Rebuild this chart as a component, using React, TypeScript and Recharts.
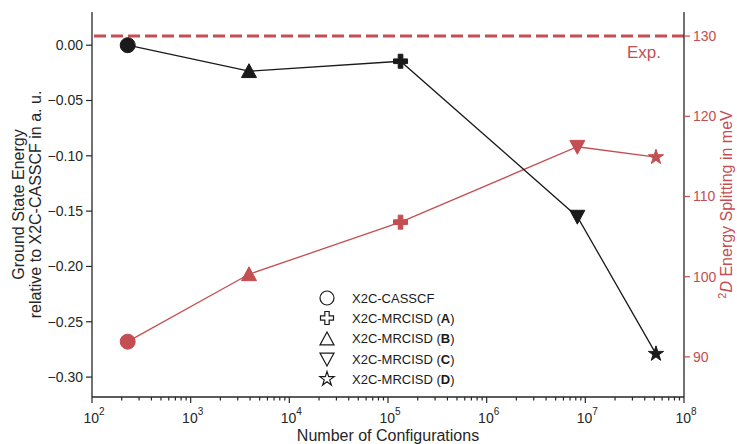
import React from 'react';
import { ComposedChart, Line, XAxis, YAxis, ReferenceLine, Legend } from 'recharts';

const configurations = [230, 3900, 134000, 8.3e6, 5.2e7];
const groundStateEnergy = [0, -0.0235, -0.0145, -0.155, -0.279];
const energySplitting = [91.9, 100.3, 106.8, 116.2, 114.9];
const markerShapes = ['circle', 'triangleUp', 'plus', 'triangleDown', 'star'];
const legendShapes = ['circle', 'plus', 'triangleUp', 'triangleDown', 'star'];
const legendNames = ['X2C-CASSCF', 'X2C-MRCISD', 'X2C-MRCISD', 'X2C-MRCISD', 'X2C-MRCISD'];
const legendTags = ['', 'A', 'B', 'C', 'D'];
const experimentSplitting = 130;

const decadeTicks = [1e2, 1e3, 1e4, 1e5, 1e6, 1e7, 1e8];
const energyTicks = [0, -0.05, -0.1, -0.15, -0.2, -0.25, -0.3];
const splittingTicks = [90, 100, 110, 120, 130];

const AXIS = '#262626';
const BLACK = '#1a1a1a';
const RED = '#c44e52';
const FONT = '"Liberation Sans", Arial, sans-serif';

// minor ticks 2..9 inside every decade
const logTicks = [
  ...decadeTicks,
  ...decadeTicks.slice(0, -1).flatMap(d => [2, 3, 4, 5, 6, 7, 8, 9].map(k => d * k)),
].sort((a, b) => a - b);

const chartData = configurations.map((c, i) => ({
  configurations: c,
  energy: groundStateEnergy[i],
  splitting: energySplitting[i],
}));

interface MarkerProps {
  shape: string;
  cx: number;
  cy: number;
  size: number;
  fill: string;
  stroke: string;
  strokeWidth?: number;
}

const Marker = ({ shape, cx, cy, size, fill, stroke, strokeWidth = 1 }: MarkerProps) => {
  const r = size / 2;
  const common = { fill, stroke, strokeWidth, strokeLinejoin: 'miter' as const };
  switch (shape) {
    case 'circle':
      return <circle cx={cx} cy={cy} r={r} {...common} />;
    case 'plus': {
      const a = r / 3;
      const pts = [
        [-a, -r], [a, -r], [a, -a], [r, -a], [r, a], [a, a],
        [a, r], [-a, r], [-a, a], [-r, a], [-r, -a], [-a, -a],
      ];
      return <polygon points={pts.map(([x, y]) => `${cx + x},${cy + y}`).join(' ')} {...common} />;
    }
    case 'triangleUp':
      return <polygon points={`${cx},${cy - r} ${cx + r},${cy + r * 0.85} ${cx - r},${cy + r * 0.85}`} {...common} />;
    case 'triangleDown':
      return <polygon points={`${cx},${cy + r} ${cx + r},${cy - r * 0.85} ${cx - r},${cy - r * 0.85}`} {...common} />;
    case 'star': {
      const pts: string[] = [];
      for (let i = 0; i < 10; i++) {
        const rad = i % 2 === 0 ? r : r * 0.382;
        const ang = -Math.PI / 2 + (i * Math.PI) / 5;
        pts.push(`${cx + rad * Math.cos(ang)},${cy + rad * Math.sin(ang)}`);
      }
      return <polygon points={pts.join(' ')} {...common} />;
    }
    default:
      return null;
  }
};

const markerSize = (shape: string) => (shape === 'star' ? 16 : shape === 'plus' ? 14 : 15);

const renderDot = (color: string) => (props: any) => {
  const { cx, cy, index } = props;
  const shape = markerShapes[index];
  return (
    <Marker key={`dot-${color}-${index}`} shape={shape} cx={cx} cy={cy} size={markerSize(shape)} fill={color} stroke={color} />
  );
};

const LogTick = (props: any) => {
  const { x, y, payload } = props;
  const v = payload.value;
  const exp = Math.round(Math.log10(v));
  const isMajor = Math.abs(v - Math.pow(10, exp)) < 1e-6 * v;
  return (
    <g>
      <line x1={x} x2={x} y1={y} y2={y + (isMajor ? 6 : 3.5)} stroke={AXIS} strokeWidth={1.2} />
      {isMajor && (
        <text x={x + 2} y={y + 26} textAnchor="middle" fontSize={14} fill={AXIS}>
          10<tspan fontSize={10} dy={-8}>{exp}</tspan>
        </text>
      )}
    </g>
  );
};

const XTitle = ({ viewBox }: any) => (
  <text x={viewBox.x + viewBox.width / 2} y={viewBox.y + 44} textAnchor="middle" fontSize={16} fill={AXIS}>
    Number of Configurations
  </text>
);

const LeftTitle = ({ viewBox }: any) => {
  const cy = viewBox.y + viewBox.height / 2;
  return (
    <g>
      <text transform={`translate(${viewBox.x + 24}, ${cy}) rotate(-90)`} textAnchor="middle" fontSize={16} fill={AXIS}>
        Ground State Energy
      </text>
      <text transform={`translate(${viewBox.x + 41}, ${cy}) rotate(-90)`} textAnchor="middle" fontSize={16} fill={AXIS}>
        relative to X2C-CASSCF in a. u.
      </text>
    </g>
  );
};

const RightTitle = ({ viewBox }: any) => {
  const cy = viewBox.y + viewBox.height / 2;
  return (
    <text transform={`translate(${viewBox.x + 48}, ${cy}) rotate(-90)`} textAnchor="middle" fontSize={16} fill={RED}>
      <tspan fontSize={11} dy={-6}>2</tspan>
      <tspan fontStyle="italic" dy={6}>D</tspan>
      <tspan> Energy Splitting in meV</tspan>
    </text>
  );
};

const ExpLabel = ({ viewBox }: any) => (
  <text x={viewBox.x + viewBox.width - 23} y={viewBox.y + 22} textAnchor="end" fontSize={17} fill={RED}>
    Exp.
  </text>
);

const MethodLegend = () => (
  <div style={{ fontFamily: FONT, fontSize: 13, color: BLACK }}>
    {legendNames.map((name, i) => (
      <div key={i} style={{ display: 'flex', alignItems: 'center', height: 20.3 }}>
        <svg width={26} height={20} style={{ marginRight: 12 }}>
          <Marker shape={legendShapes[i]} cx={13} cy={10} size={markerSize(legendShapes[i]) - 1} fill="none" stroke={BLACK} strokeWidth={1.2} />
        </svg>
        <span>
          {name}
          {legendTags[i] && (
            <>
              {' ('}<b>{legendTags[i]}</b>{')'}
            </>
          )}
        </span>
      </div>
    ))}
  </div>
);

export default function App() {
  return (
    <div style={{ position: 'absolute', left: 0, top: 0, width: 737, height: 444, background: '#fff', fontFamily: FONT }}>
      <ComposedChart width={737} height={444} data={chartData} margin={{ top: 12, right: 0, bottom: 0, left: 0 }}>
        <XAxis
          xAxisId="top"
          orientation="top"
          dataKey="configurations"
          type="number"
          scale="log"
          domain={[100, 1e8]}
          height={0}
          tick={false}
          tickLine={false}
          axisLine={{ stroke: AXIS, strokeWidth: 1.3 }}
        />
        <XAxis
          xAxisId="bottom"
          dataKey="configurations"
          type="number"
          scale="log"
          domain={[100, 1e8]}
          ticks={logTicks}
          interval={0}
          tickSize={0}
          tickMargin={0}
          tickLine={false}
          tick={<LogTick />}
          height={47}
          axisLine={{ stroke: AXIS, strokeWidth: 1.3 }}
          label={{ content: XTitle }}
        />
        <YAxis
          yAxisId="left"
          width={92}
          domain={[-0.318, 0.03]}
          ticks={energyTicks}
          interval={0}
          tickFormatter={(v: number) => v.toFixed(2).replace('-', '\u2212')}
          tickSize={6}
          tickMargin={3}
          tick={{ fill: AXIS, fontSize: 14 }}
          tickLine={{ stroke: AXIS, strokeWidth: 1.2 }}
          axisLine={{ stroke: AXIS, strokeWidth: 1.3 }}
          label={{ content: LeftTitle }}
        />
        <YAxis
          yAxisId="right"
          orientation="right"
          width={53}
          domain={[85, 133]}
          ticks={splittingTicks}
          interval={0}
          tickSize={6}
          tickMargin={3}
          tick={{ fill: RED, fontSize: 14 }}
          tickLine={{ stroke: RED, strokeWidth: 1.2 }}
          axisLine={{ stroke: AXIS, strokeWidth: 1.3 }}
          label={{ content: RightTitle }}
        />
        <ReferenceLine
          xAxisId="bottom"
          yAxisId="right"
          y={experimentSplitting}
          stroke={RED}
          strokeWidth={3}
          strokeDasharray="12 5"
          label={{ content: ExpLabel }}
        />
        <Line
          xAxisId="bottom"
          yAxisId="right"
          dataKey="splitting"
          type="linear"
          stroke={RED}
          strokeWidth={1.3}
          dot={renderDot(RED)}
          activeDot={false}
          isAnimationActive={false}
        />
        <Line
          xAxisId="bottom"
          yAxisId="left"
          dataKey="energy"
          type="linear"
          stroke={BLACK}
          strokeWidth={1.3}
          dot={renderDot(BLACK)}
          activeDot={false}
          isAnimationActive={false}
        />
        <Legend
          layout="horizontal"
          verticalAlign="middle"
          align="center"
          content={<MethodLegend />}
          wrapperStyle={{ left: 314, top: 288, width: 190, height: 102 }}
        />
      </ComposedChart>
    </div>
  );
}
